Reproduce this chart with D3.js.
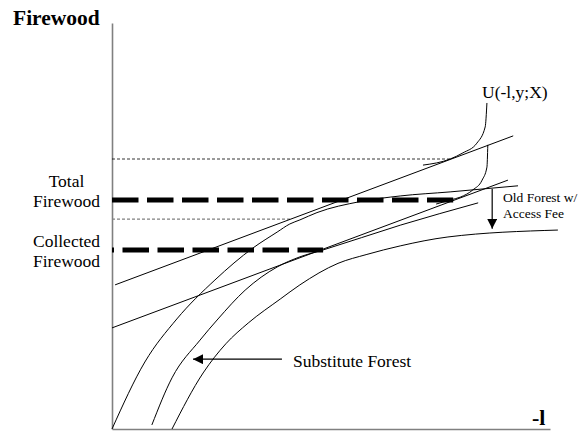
<!DOCTYPE html>
<html><head><meta charset="utf-8">
<script src="https://cdn.jsdelivr.net/npm/d3@7"></script>
<style>
html,body{margin:0;padding:0;background:#fff;}
text{font-family:"Liberation Serif","Times New Roman",serif;fill:#000;}
</style></head>
<body>
<svg id="chart" width="585" height="432"></svg>
<script>
// ---- data (abstract units: x = -l (leisure), y = firewood) ----
const xDomain = [0, 10];
const yDomain = [0, 10];

// production frontier: old forest (no fee)
const oldForest = [[0,0],[0.75,1.65],[1.48,2.71],[2.35,3.67],[3.22,4.46],[3.77,4.85],[4.06,5.05],[4.29,5.15],[4.68,5.33],[5.66,5.60],[6.58,5.74],[7.72,5.84],[9.27,5.99]];
// frontier with substitute forest
const substituteForest = [[0.91,0.10],[1.37,1.26],[2.01,2.19],[2.42,2.71],[3.04,3.42],[3.77,3.99],[4.29,4.24],[4.82,4.41],[6.58,5.02],[8.36,5.57]];
// old forest with access fee
const feeForest = [[1.37,0],[2.08,1.38],[2.60,2.10],[3.11,2.61],[3.84,3.20],[4.29,3.55],[5.16,4.08],[5.82,4.30],[6.58,4.51],[7.67,4.73],[10.18,4.90]];
// budget lines
const budgetHigh = [[0.07,3.55],[9.16,7.22]];
const budgetLow = [[0,2.49],[9.04,6.13]];
// indifference curves
const indiffHigh = [[7.10,6.50],[7.72,6.65],[8.01,6.80],[8.33,7.04],[8.52,7.44],[8.56,8.03]];
const indiffLow = [[7.40,5.54],[7.72,5.64],[7.95,5.71],[8.24,5.89],[8.45,6.13],[8.56,6.45],[8.58,7.00]];
// reference levels
const totalFirewood = {y:5.64, xEnd:7.79};
const collectedFirewood = {y:4.41, xEnd:4.82};
const upperLevel = {y:6.65, xEnd:7.72};
const kinkLevel = {y:5.17, xEnd:4.11};
// arrows
const subArrow = [[3.88,1.72],[1.85,1.72]];
const feeArrow = [[8.68,5.91],[8.68,4.93]];

const labels = ["Firewood","-l","Total","Firewood","Collected","Firewood","Substitute Forest","U(-l,y;X)","Old Forest w/","Access Fee"];

// ---- drawing ----
const svg = d3.select("#chart");
const x = d3.scaleLinear().domain(xDomain).range([112, 550]);
const y = d3.scaleLinear().domain(yDomain).range([429, 23]);

const defs = svg.append("defs");
defs.append("marker").attr("id","tri").attr("viewBox","0 0 10 10")
  .attr("refX",10).attr("refY",5).attr("markerWidth",10).attr("markerHeight",10)
  .attr("markerUnits","userSpaceOnUse").attr("orient","auto")
  .append("path").attr("d","M0,0 L10,5 L0,10 Z").attr("fill","#000");

// axes
svg.append("g").attr("transform",`translate(0,${y(0)})`)
  .call(d3.axisBottom(x).tickValues([]).tickSizeOuter(0));
svg.append("g").attr("transform",`translate(${x(0)},0)`)
  .call(d3.axisLeft(y).tickValues([]).tickSizeOuter(0));
svg.selectAll(".domain").attr("stroke","#808080").attr("stroke-width",1.6);

// horizontal reference lines
function hline(level, opts){
  svg.append("line").attr("x1",x(0)).attr("x2",x(level.xEnd))
    .attr("y1",y(level.y)).attr("y2",y(level.y))
    .attr("stroke",opts.color).attr("stroke-width",opts.w)
    .attr("stroke-dasharray",opts.dash).attr("stroke-dashoffset",opts.off||0);
}
hline(upperLevel,{color:"#000",w:0.8,dash:"3,2"});
hline(kinkLevel,{color:"#808080",w:1.2,dash:"3,2"});
hline(totalFirewood,{color:"#000",w:5,dash:"26.5,8.5"});
hline(collectedFirewood,{color:"#000",w:5,dash:"26.5,8.5",off:24.5});

const line = d3.line().x(d=>x(d[0])).y(d=>y(d[1]));
const curve = d3.line().x(d=>x(d[0])).y(d=>y(d[1])).curve(d3.curveMonotoneX);

[budgetHigh,budgetLow].forEach(d=>{
  svg.append("path").attr("d",line(d)).attr("fill","none").attr("stroke","#000").attr("stroke-width",1);
});
[oldForest,substituteForest,feeForest,indiffHigh,indiffLow].forEach(d=>{
  svg.append("path").attr("d",curve(d)).attr("fill","none").attr("stroke","#000").attr("stroke-width",1);
});

// arrows
[subArrow,feeArrow].forEach(d=>{
  svg.append("path").attr("d",line(d)).attr("fill","none").attr("stroke","#000")
    .attr("stroke-width",1.2).attr("marker-end","url(#tri)");
});

// texts
function txt(s, px, py, size, opts={}){
  svg.append("text").attr("x",px).attr("y",py).attr("font-size",size)
    .attr("font-weight",opts.bold?"bold":"normal")
    .attr("text-anchor",opts.anchor||"start").text(s);
}
txt(labels[0], 13, 25, 21.5, {bold:true});
txt(labels[1], 532, 425, 22, {bold:true});
txt(labels[2], 66.5, 187, 17.5, {anchor:"middle"});
txt(labels[3], 66.5, 207, 17.5, {anchor:"middle"});
txt(labels[4], 66.5, 247, 17.5, {anchor:"middle"});
txt(labels[5], 66.5, 267, 17.5, {anchor:"middle"});
txt(labels[6], 293, 367, 17.5);
txt(labels[7], 482, 98, 17.5);
txt(labels[8], 503, 202, 13.5);
txt(labels[9], 503, 218, 13.5);
</script>
</body></html>
